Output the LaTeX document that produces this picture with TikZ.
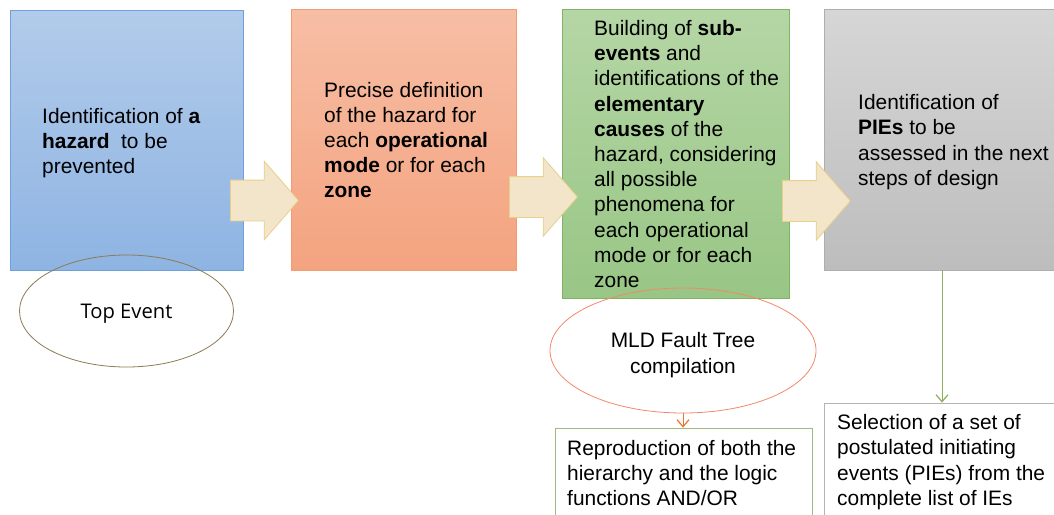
\documentclass[tikz,border=0pt]{standalone}
\usepackage{fontspec}
\setmainfont{Liberation Sans}
\newfontfamily\evfont{Open Sans}
\usetikzlibrary{shapes.geometric,shapes.arrows,arrows.meta}

\definecolor{bluetop}{HTML}{B2CBEA}
\definecolor{bluebot}{HTML}{8EB4E3}
\definecolor{blueline}{HTML}{6FA0DC}
\definecolor{orgtop}{HTML}{F7BEA5}
\definecolor{orgbot}{HTML}{F4A37F}
\definecolor{orgline}{HTML}{F39C72}
\definecolor{grntop}{HTML}{B5D6A5}
\definecolor{grnbot}{HTML}{98C685}
\definecolor{grnline}{HTML}{82B266}
\definecolor{grytop}{HTML}{D6D6D6}
\definecolor{grybot}{HTML}{BDBDBD}
\definecolor{gryline}{HTML}{AEAEAE}
\definecolor{arrfill}{HTML}{F2E5CA}
\definecolor{arrline}{HTML}{E6D08A}
\definecolor{topline}{HTML}{8C7B55}
\definecolor{mldline}{HTML}{F4876A}
\definecolor{mldarrow}{HTML}{E8762B}
\definecolor{piearrow}{HTML}{8DB05E}
\definecolor{reprline}{HTML}{9CBB7C}
\definecolor{selline}{HTML}{B4B4B4}

\tikzset{
  stage/.style={draw, line width=0.8pt, minimum width=#1, inner sep=0pt},
  label/.style={align=left, inner sep=0pt, anchor=west,
                font=\fontsize{20.9}{25.2}\selectfont},
  flow/.style={single arrow, draw=arrline, fill=arrfill, line width=0.8pt,
               minimum height=68pt, inner xsep=0pt, inner ysep=20pt, anchor=tail,
               single arrow head extend=19pt, single arrow tip angle=98},
  event/.style={ellipse, line width=0.8pt, inner sep=0pt},
  outbox/.style={draw, line width=0.8pt, inner sep=0pt},
  link/.style={line width=1pt, -{Straight Barb[length=7pt,width=12pt,line width=1.2pt]}}
}

\begin{document}
\begin{tikzpicture}[x=1pt,y=-1pt]
\useasboundingbox (0,0) rectangle (1054,514);
\clip (0,0) rectangle (1054,514);

% main stages
\node[stage=233pt, minimum height=260pt, top color=bluetop, bottom color=bluebot, draw=blueline]
  (hazard) at (126.5,140) {};
\node[stage=225pt, minimum height=261pt, top color=orgtop, bottom color=orgbot, draw=orgline]
  (define) at (403.5,139.5) {};
\node[stage=227pt, minimum height=289pt, top color=grntop, bottom color=grnbot, draw=grnline]
  (subev) at (675.5,153.5) {};
\node[stage=236pt, minimum height=261pt, top color=grytop, bottom color=grybot, draw=gryline]
  (pies) at (942,139.5) {};

\node[label] (hazardtxt) at (42,143)
  {Identification of \textbf{a}\\\textbf{hazard}~ to be\\prevented};
\node[label] (definetxt) at (324,140)
  {Precise definition\\of the hazard for\\each \textbf{operational}\\\textbf{mode} or for each\\\textbf{zone}};
\node[label] (subevtxt) at (594,154)
  {Building of \textbf{sub-}\\\textbf{events} and\\identifications of the\\\textbf{elementary}\\\textbf{causes} of the\\hazard, considering\\all possible\\phenomena for\\each operational\\mode or for each\\zone};
\node[label] (piestxt) at (858,142)
  {Identification of\\\textbf{PIEs} to be\\assessed in the next\\steps of design};

% block arrows
\node[flow] (flowa) at (230,200.5) {};
\node[flow] (flowb) at (509,197) {};
\node[flow] (flowc) at (782,201) {};

% events
\node[event, draw=topline, minimum width=214pt, minimum height=112pt] (topev) at (126.5,311) {};
\node[anchor=base, inner sep=0pt, font=\evfont\fontsize{20.2}{24}\selectfont]
  (topevtxt) at (126.5,318) {Top Event};
\node[event, draw=mldline, minimum width=266pt, minimum height=125pt] (mld) at (683,350.5) {};
\node[align=center, inner sep=0pt, font=\fontsize{20.9}{25.2}\selectfont]
  (mldtxt) at (683,355) {MLD Fault Tree\\compilation};

% outputs
\node[outbox, draw=reprline, minimum width=257pt, minimum height=110pt]
  (repro) at (683.5,483) {};
\node[outbox, draw=selline, minimum width=250pt, minimum height=130pt]
  (select) at (949,468) {};
\node[label] (reprotxt) at (567,473)
  {Reproduction of both the\\hierarchy and the logic\\functions AND/OR};
\node[label] (selecttxt) at (837,462)
  {Selection of a set of\\postulated initiating\\events (PIEs) from the\\complete list of IEs};

\draw[link, mldarrow] (mld.south) -- (mld.south |- repro.north);
\draw[link, piearrow] (pies.south) -- (pies.south |- select.north);
\end{tikzpicture}
\end{document}
